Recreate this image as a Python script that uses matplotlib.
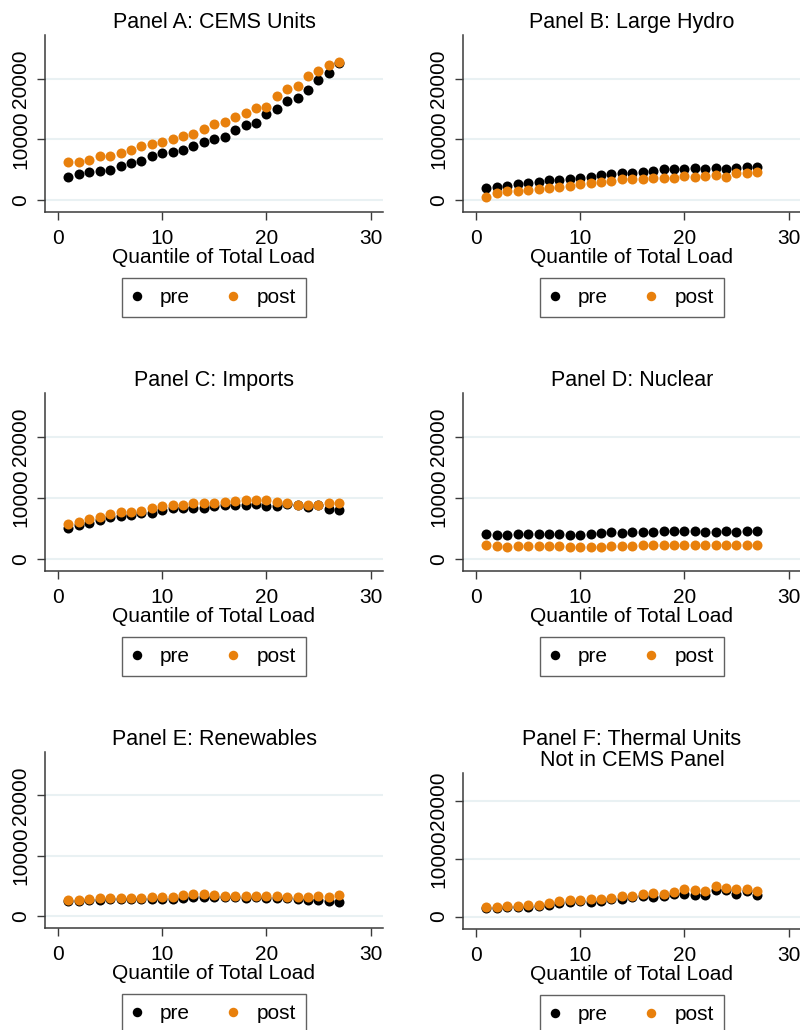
import matplotlib
matplotlib.use('Agg')
from matplotlib import pyplot as plt
import numpy as np

plt.rcParams['font.family'] = ['Liberation Sans', 'DejaVu Sans']

quantiles = np.arange(1, 28)

titles = ['Panel A: CEMS Units', 'Panel B: Large Hydro', 'Panel C: Imports',
          'Panel D: Nuclear', 'Panel E: Renewables',
          'Panel F: Thermal Units\nNot in CEMS Panel']

cems_pre = [3850, 4290, 4560, 4780, 4950, 5600, 6040, 6480, 7300, 7700, 7900, 8300, 8900, 9500,
            10050, 10440, 11600, 12360, 12700, 14230, 15050, 16300, 16870, 18130, 19700, 21000, 22640]
cems_post = [6260, 6320, 6590, 7200, 7300, 7700, 8300, 8950, 9230, 9560, 10100, 10550, 10930, 11650,
             12470, 12900, 13740, 14290, 15160, 15270, 17090, 18350, 18790, 20440, 21320, 22200, 22800]

hydro_pre = [1920, 2200, 2360, 2640, 2860, 3020, 3300, 3300, 3400, 3680, 3850, 4120, 4290, 4500,
             4500, 4670, 4840, 5050, 5050, 5050, 5220, 5050, 5220, 5160, 5220, 5380, 5490]
hydro_post = [550, 1210, 1480, 1540, 1650, 1810, 2030, 2090, 2360, 2640, 2860, 3020, 3190, 3460,
              3400, 3400, 3570, 3630, 3680, 3900, 3790, 4010, 4120, 3850, 4400, 4500, 4560]

imports_pre = [5140, 5570, 5850, 6390, 6890, 7050, 7160, 7490, 7600, 7980, 8310, 8420, 8420, 8420,
               8630, 8800, 8850, 8850, 8960, 8630, 8630, 8960, 8850, 8520, 8850, 8140, 7980]
imports_post = [5680, 6120, 6500, 6940, 7320, 7760, 7760, 7870, 8310, 8630, 8800, 8800, 9130, 9130,
                9230, 9400, 9450, 9670, 9620, 9620, 9340, 9130, 8850, 8850, 8850, 9230, 9230]

nuclear_pre = [4100, 3880, 3930, 4040, 4150, 4040, 4100, 4040, 3930, 3990, 4150, 4210, 4370, 4320,
               4370, 4480, 4480, 4540, 4540, 4590, 4590, 4480, 4480, 4540, 4480, 4540, 4640]
nuclear_post = [2240, 2080, 2020, 2080, 2080, 2080, 2080, 2130, 2020, 2020, 1970, 2020, 2080, 2130,
                2190, 2240, 2240, 2300, 2300, 2350, 2350, 2350, 2350, 2350, 2350, 2350, 2350]

renew_pre = [2530, 2530, 2640, 2690, 2800, 2800, 2800, 2800, 2750, 2750, 2860, 3020, 3190, 3190,
             3130, 3130, 3080, 3020, 3080, 3020, 3020, 2910, 2800, 2640, 2640, 2420, 2250]
renew_post = [2640, 2690, 2800, 2910, 3020, 3020, 3020, 3020, 3080, 3080, 3190, 3410, 3630, 3630,
              3460, 3350, 3350, 3350, 3350, 3350, 3300, 3190, 3190, 3130, 3300, 3190, 3460]

thermal_pre = [1500, 1500, 1620, 1680, 1730, 1850, 2080, 2370, 2600, 2720, 2600, 2770, 2950, 3060,
               3350, 3530, 3350, 3530, 3930, 3820, 3760, 3640, 4510, 4510, 3820, 4450, 3700]
thermal_post = [1730, 1730, 1850, 1850, 2020, 2020, 2310, 2660, 2890, 2830, 2950, 3060, 3240, 3470,
                3470, 3870, 4100, 3930, 4220, 4800, 4620, 4450, 5260, 4910, 4800, 4680, 4390]

pre_series = [cems_pre, hydro_pre, imports_pre, nuclear_pre, renew_pre, thermal_pre]
post_series = [cems_post, hydro_post, imports_post, nuclear_post, renew_post, thermal_post]

# axes boxes in pixels: left, top, right, bottom
W, H = 800, 1030
boxes = [(45, 35, 383, 212), (463, 35, 801, 212),
         (45, 393, 383, 571), (463, 393, 801, 571),
         (45, 752, 383, 928), (463, 773, 801, 929)]
ylims = [(-1980, 27180)] * 5 + [(-2140, 24750)]

pre_color = 'black'
post_color = '#E8800C'
axis_color = '#3a3a3a'
grid_color = '#E9F1F3'
fs = 15

fig = plt.figure(figsize=(W / 100, H / 100), dpi=100)

for i in range(6):
    l, t, r, b = boxes[i]
    ax = fig.add_axes([l / W, 1 - b / H, (r - l) / W, (b - t) / H])
    ax.plot(quantiles, pre_series[i], 'o', color=pre_color, ms=7.2, mew=0, label='pre')
    ax.plot(quantiles, post_series[i], 'o', color=post_color, ms=7.2, mew=0, label='post')
    ax.set_xlim(-1.25, 31.2)
    ax.set_ylim(*ylims[i])
    ax.set_xticks([0, 10, 20, 30])
    ax.set_yticks([0, 10000, 20000])
    ax.set_yticklabels(['0', '10000', '20000'], rotation=90, va='center')
    ax.grid(axis='y', color=grid_color, lw=1.5)
    ax.set_axisbelow(True)
    ax.spines['top'].set_visible(False)
    ax.spines['right'].set_visible(False)
    for s in ['left', 'bottom']:
        ax.spines[s].set_color(axis_color)
        ax.spines[s].set_linewidth(1.1)
    ax.tick_params(length=5.5, width=1, color=axis_color, labelsize=fs)
    ax.tick_params(axis='x', pad=7)
    ax.tick_params(axis='y', pad=5)
    ax.set_title(titles[i], fontsize=15.5, pad=5, linespacing=1.0)
    ax.set_xlabel('Quantile of Total Load', fontsize=fs, labelpad=0)
    leg = ax.legend(loc='upper center', bbox_to_anchor=(0.5, -66 / (b - t)), ncol=2,
                    fontsize=fs, frameon=True, fancybox=False, borderpad=0.48,
                    handlelength=0.4, handletextpad=0.9, columnspacing=1.9,
                    borderaxespad=0, markerscale=0.95)
    leg.get_frame().set_edgecolor(axis_color)
    leg.get_frame().set_linewidth(1)

fig.savefig('out.png', dpi=100)
